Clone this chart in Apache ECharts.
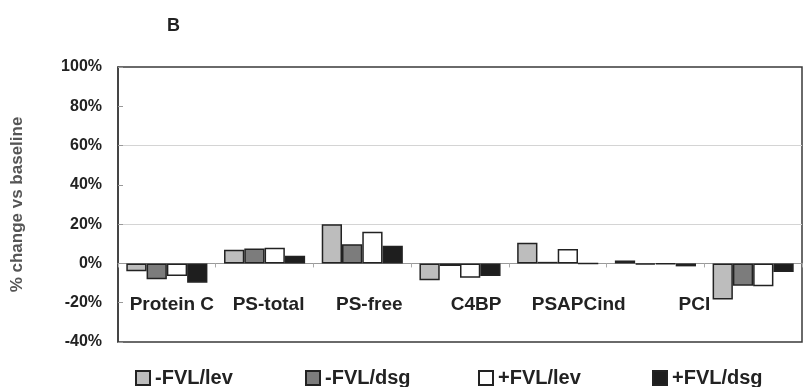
<!DOCTYPE html>
<html>
<head>
<meta charset="utf-8">
<script src="https://cdn.jsdelivr.net/npm/echarts@6/dist/echarts.min.js"></script>
<style>
html,body{margin:0;padding:0;background:#fff;}
#chart{width:804px;height:387px;}
</style>
</head>
<body>
<div id="chart"></div>
<script>
const categories = ['Protein C', 'PS-total', 'PS-free', 'C4BP', 'PSAPCind', 'PCI', ''];
const seriesNames = ['-FVL/lev', '-FVL/dsg', '+FVL/lev', '+FVL/dsg'];
const fvlMinusLev = [-4, 7, 20, -8.5, 10.5, 1.5, -18.3];
const fvlMinusDsg = [-8, 7.6, 9.8, -1.3, 0.8, -0.5, -11.3];
const fvlPlusLev  = [-6.4, 8, 16.1, -7.3, 7.3, -0.3, -11.6];
const fvlPlusDsg  = [-9.8, 3.9, 9, -6.4, 0, -1.5, -4.3];
const yTicks = [-40, -20, 0, 20, 40, 60, 80, 100];

const seriesValues = [fvlMinusLev, fvlMinusDsg, fvlPlusLev, fvlPlusDsg];
const seriesColors = ['#bdbdbd', '#7c7c7c', '#ffffff', '#1e1e1e'];
const labelShift = [5, 4, 7, 16, 21, 39, 0];
const legendLeft = [135, 305, 478, 652];
const font = '"Liberation Sans", Arial, sans-serif';

const gridTop = 67, gridBottom = 45, chartH = 387;
const yMin = yTicks[0], yMax = yTicks[yTicks.length - 1];
const plotH = chartH - gridTop - gridBottom;
// distance from grid bottom up to the zero line, so the category axis sits on 0
const zeroOffset = -plotH * (0 - yMin) / (yMax - yMin);

const chart = echarts.init(document.getElementById('chart'), null, {renderer: 'canvas'});

const gridColors = yTicks.map(v => (v === 20 || v === 60) ? '#d4d4d4' : 'rgba(0,0,0,0)');

const option = {
  backgroundColor: '#ffffff',
  animation: false,
  title: {
    text: 'B', left: 162, top: 12,
    textStyle: {fontFamily: font, fontWeight: 'bold', fontSize: 18, color: '#222'}
  },
  grid: {
    left: 118, right: 2, top: gridTop, bottom: gridBottom,
    outerBoundsMode: 'none', containLabel: false,
    show: true, borderColor: '#3a3a3a', borderWidth: 1.5, backgroundColor: 'transparent'
  },
  legend: seriesNames.map((n, i) => ({
    data: [n], left: legendLeft[i], top: 368, padding: 0,
    itemWidth: 14, itemHeight: 14, itemGap: 0, itemTextGap: 5, icon: 'rect',
    textStyle: {fontFamily: font, fontWeight: 'bold', fontSize: 20, color: '#222'}
  })),
  xAxis: {
    type: 'category',
    offset: zeroOffset,
    data: categories.map((c, i) => ({
      value: c,
      textStyle: {padding: [0, 0, 0, labelShift[i] * 2]}
    })),
    axisLine: {onZero: false, lineStyle: {color: '#999', width: 1}},
    axisTick: {show: true, length: 4, lineStyle: {color: '#aaa'}},
    axisLabel: {
      interval: 0, margin: 32, hideOverlap: false,
      fontFamily: font, fontWeight: 'bold', fontSize: 19, color: '#222'
    },
    splitLine: {show: false}
  },
  yAxis: {
    type: 'value', min: yMin, max: yMax, interval: 20,
    name: '% change vs baseline', nameLocation: 'middle', nameRotate: 90, nameGap: 92,
    nameTextStyle: {fontFamily: font, fontWeight: 'bold', fontSize: 17, color: '#555'},
    axisLine: {show: true, lineStyle: {color: '#3a3a3a', width: 1.5}},
    axisTick: {show: true, inside: true, length: 5, lineStyle: {color: '#999'}},
    axisLabel: {
      margin: 16, formatter: v => v + '%',
      fontFamily: font, fontWeight: 'bold', fontSize: 16, color: '#222'
    },
    splitLine: {show: true, lineStyle: {color: gridColors, width: 1}}
  },
  series: seriesNames.map((n, i) => ({
    name: n, type: 'bar',
    data: seriesValues[i],
    barGap: '0%', barCategoryGap: '17%',
    itemStyle: {color: seriesColors[i], borderColor: '#222', borderWidth: 1.5}
  }))
};
chart.setOption(option);
</script>
</body>
</html>
